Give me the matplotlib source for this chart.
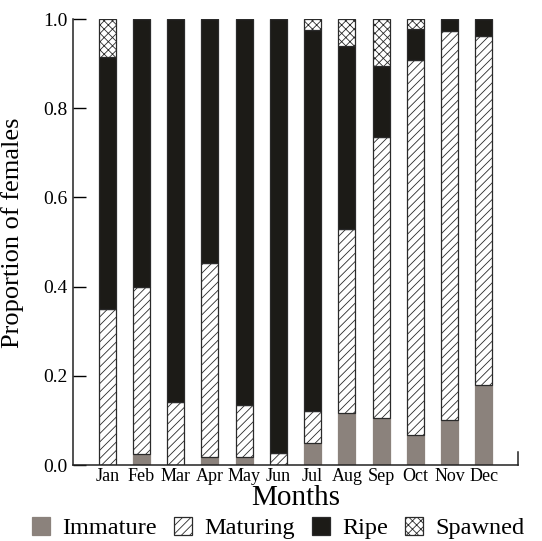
import numpy as np
import matplotlib
matplotlib.use('Agg')
import matplotlib.pyplot as plt
from matplotlib.patches import Patch

plt.rcParams['font.family'] = ['Liberation Serif', 'DejaVu Serif']
plt.rcParams['hatch.linewidth'] = 0.6

# proportions of females per maturity stage
months = ['Jan', 'Feb', 'Mar', 'Apr', 'May', 'Jun',
          'Jul', 'Aug', 'Sep', 'Oct', 'Nov', 'Dec']
immature = [0.0, 0.025, 0.0, 0.019, 0.019, 0.0, 0.049, 0.117, 0.105, 0.067, 0.101, 0.179]
maturing = [0.35, 0.375, 0.141, 0.435, 0.116, 0.026, 0.073, 0.413, 0.631, 0.841, 0.872, 0.783]
ripe = [0.564, 0.60, 0.859, 0.546, 0.865, 0.974, 0.853, 0.410, 0.159, 0.070, 0.027, 0.038]
spawned = [0.086, 0.0, 0.0, 0.0, 0.0, 0.0, 0.025, 0.060, 0.105, 0.022, 0.0, 0.0]

stages = ['Immature', 'Maturing', 'Ripe', 'Spawned']
grey = '#8b827c'
dark = '#1c1b17'
edge = '#2a2a2a'
styles = {
    'Immature': dict(facecolor=grey, edgecolor=grey, hatch=None),
    'Maturing': dict(facecolor='white', edgecolor=edge, hatch='////'),
    'Ripe': dict(facecolor=dark, edgecolor=edge, hatch=None),
    'Spawned': dict(facecolor='white', edgecolor=edge, hatch='xxxx'),
}

fig = plt.figure(figsize=(5.42, 5.41), dpi=100)
ax = fig.add_axes([73 / 542, 76 / 541, 445 / 542, 446 / 541])

x = np.arange(len(months))
bottom = np.zeros(len(months))
for name, vals in zip(stages, [immature, maturing, ripe, spawned]):
    vals = np.array(vals)
    st = styles[name]
    ax.bar(x, vals, width=0.5, bottom=bottom, facecolor=st['facecolor'],
           edgecolor=st['edgecolor'], hatch=st['hatch'], linewidth=0.9)
    bottom += vals

ax.set_xlim(-1, 12)
ax.set_ylim(0, 1.0)
ax.set_yticks(np.arange(0, 1.01, 0.2))
ax.set_yticklabels([f'{v:.1f}' for v in np.arange(0, 1.01, 0.2)])
ax.set_xticks(x)
ax.set_xticklabels(months)
ax.tick_params(axis='y', direction='in', length=9.5, width=1, labelsize=14, pad=4)
ax.tick_params(axis='x', length=0, labelsize=13, pad=2)

ax.spines['top'].set_visible(False)
ax.spines['right'].set_bounds(0, 0.03)
for s in ['left', 'bottom', 'right']:
    ax.spines[s].set_linewidth(1.1)
    ax.spines[s].set_color('#222222')

ax.set_ylabel('Proportion of females', fontsize=19, labelpad=5)
ax.yaxis.set_label_coords(-0.11, 0.52)
ax.set_xlabel('Months', fontsize=21, labelpad=0)

handles = [Patch(facecolor=styles[n]['facecolor'], edgecolor=styles[n]['edgecolor'],
                 hatch=styles[n]['hatch'], linewidth=0.9) for n in stages]
fig.legend(handles, stages, loc='center', bbox_to_anchor=(278 / 542, 13 / 541),
           ncol=4, frameon=False, fontsize=17.5, handlelength=0.75, handleheight=0.75,
           handletextpad=0.5, columnspacing=0.7, borderaxespad=0, borderpad=0)

fig.savefig('out.png', dpi=100)
